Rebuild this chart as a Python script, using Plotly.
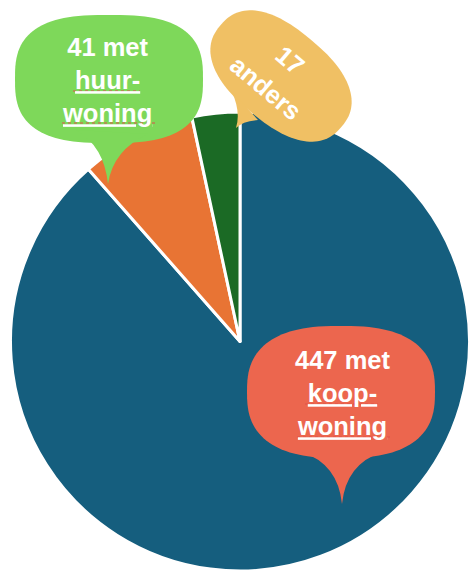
import numpy as np
import plotly.graph_objects as go

W, H = 470, 571

labels = ["met koopwoning", "met huurwoning", "anders"]
values = [447, 41, 17]
slice_colors = ["#155e7e", "#e87434", "#1b6a25"]

# page pixel -> paper helpers (margins are 0)
def px(x):
        return x / W
def py(y):
        return 1 - y / H

def blob(cx, cy, a, b, n=2.6, angle=0):
        t = np.linspace(0, 2 * np.pi, 120, endpoint=False)
        c, s = np.cos(t), np.sin(t)
        x = a * np.sign(c) * np.abs(c) ** (2 / n)
        y = b * np.sign(s) * np.abs(s) ** (2 / n)
        r = np.radians(angle)
        xr = cx + x * np.cos(r) - y * np.sin(r)
        yr = cy + x * np.sin(r) + y * np.cos(r)
        pts = ["%.5f,%.5f" % (px(u), py(v)) for u, v in zip(xr, yr)]
        return "M " + " L ".join(pts) + " Z"

def tail(p0, c0, tip, c1, p1):
        f = lambda p: "%.5f,%.5f" % (px(p[0]), py(p[1]))
        return "M %s Q %s %s Q %s %s Z" % (f(p0), f(c0), f(tip), f(c1), f(p1))

fig = go.Figure(go.Pie(
        labels=labels,
        values=values,
        sort=False,
        direction="clockwise",
        rotation=0,
        marker=dict(colors=slice_colors, line=dict(color="white", width=3)),
        textinfo="none",
        hoverinfo="label+value",
        domain=dict(x=[0.0213, 1.0], y=[0.0, 0.8039]),
        showlegend=False,
))

green, yellow, red = "#7ed85a", "#f0c064", "#ec664e"
shapes = [
        dict(type="path", path=blob(109, 79, 94, 64, 2.8), fillcolor=green, line_width=0),
        dict(type="path", path=tail((76, 130), (104, 146), (108, 184), (113, 150), (148, 134)),
             fillcolor=green, line_width=0),
        dict(type="path", path=blob(281, 76, 79, 47, 2.4, 40), fillcolor=yellow, line_width=0),
        dict(type="path", path=tail((232, 92), (241, 112), (236, 128), (243, 121), (258, 120)),
             fillcolor=yellow, line_width=0),
        dict(type="path", path=blob(341, 392, 94, 66, 2.6), fillcolor=red, line_width=0),
        dict(type="path", path=tail((302, 452), (338, 464), (342, 504), (346, 464), (382, 452)),
             fillcolor=red, line_width=0),
]
# red spell-check squiggles under the hyphenated words
for x0, x1, y in [(73, 140, 91), (62, 155, 123), (305, 378, 404), (297, 390, 437)]:
        shapes.append(dict(type="line", xref="paper", yref="paper",
                           x0=px(x0), x1=px(x1), y0=py(y), y1=py(y),
                           line=dict(color="#e0504a", width=1, dash="dot")))
for s in shapes:
        s.setdefault("xref", "paper")
        s.setdefault("yref", "paper")

font = dict(family="Liberation Sans, Arial, sans-serif", size=25.5, color="white")
annotations = [
        dict(x=px(107), y=py(80), text="<b>%d met<br><u>huur-</u><br><u>woning</u></b>" % values[1]),
        dict(x=px(342), y=py(393), text="<b>%d met<br><u>koop-</u><br><u>woning</u></b>" % values[0]),
        dict(x=px(290), y=py(60), text="<b>%d</b>" % values[2], textangle=40),
        dict(x=px(266), y=py(88), text="<b>anders</b>", textangle=40),
]
for a in annotations:
        a.update(xref="paper", yref="paper", showarrow=False, font=font, align="center",
                 xanchor="center", yanchor="middle")

fig.update_layout(width=W, height=H,
                  margin=dict(l=0, r=0, t=0, b=0),
                  paper_bgcolor="white",
                  shapes=shapes,
                  annotations=annotations)
# drop the default 8px body margin so the figure fills the window
fig.write_html("out.html", config={"displayModeBar": False},
               post_script="document.body.style.margin='0';")
